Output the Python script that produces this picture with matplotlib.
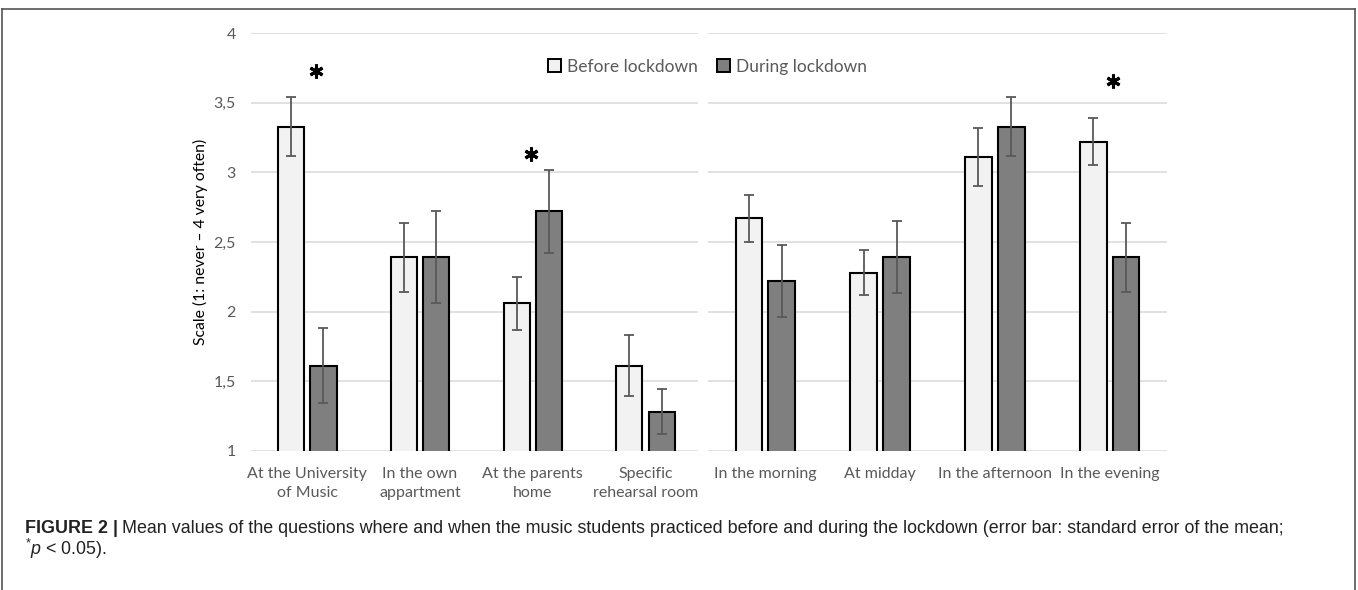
import matplotlib
matplotlib.use('Agg')
import numpy as np
import matplotlib.pyplot as plt
from matplotlib.patches import Patch
from matplotlib.lines import Line2D

plt.rcParams['font.family'] = ['Lato', 'DejaVu Sans']
plt.rcParams['mathtext.fontset'] = 'custom'
plt.rcParams['mathtext.rm'] = 'Liberation Sans'
plt.rcParams['mathtext.it'] = 'Liberation Sans:italic'

# where the students practiced
place_labels = ['At the University\nof Music', 'In the own\nappartment',
                'At the parents\nhome', 'Specific\nrehearsal room']
place_before = [3.33, 2.39, 2.06, 1.61]
place_during = [1.61, 2.39, 2.72, 1.28]
place_before_se = [0.21, 0.25, 0.19, 0.22]
place_during_se = [0.27, 0.33, 0.30, 0.16]

# when the students practiced
time_labels = ['In the morning', 'At midday', 'In the afternoon', 'In the evening']
time_before = [2.67, 2.28, 3.11, 3.22]
time_during = [2.22, 2.39, 3.33, 2.39]
time_before_se = [0.17, 0.16, 0.21, 0.17]
time_during_se = [0.26, 0.26, 0.21, 0.25]

# significant differences (*p < 0.05): group index, star height
place_sig = [0, 2]
place_sig_y = [3.73, 3.13]
time_sig = [3]
time_sig_y = [3.655]

y_ticks = [1, 1.5, 2, 2.5, 3, 3.5, 4]
y_tick_labels = ['1', '1,5', '2', '2,5', '3', '3,5', '4']

LIGHT = '#f2f2f2'
DARK = '#7f7f7f'
GRID = '#d9d9d9'
TXT = '#595959'
ERR = '#595959'

W, H = 1358, 590
fig = plt.figure(figsize=(W / 100, H / 100), dpi=100)

ax_bottom = (H - 450.7) / H
ax_height = (450.7 - 33.3) / H
ax1 = fig.add_axes([251 / W, ax_bottom, 447 / W, ax_height])
ax2 = fig.add_axes([708 / W, ax_bottom, 459 / W, ax_height])

bar_w = 0.232
offset = 0.143


def draw_panel(ax, labels, before, during, before_se, during_se,
               sig, sig_y, sig_dx):
    x = np.arange(len(labels))
    err_kw = dict(ecolor=ERR, elinewidth=1.3, capsize=3.3, capthick=1.3)
    ax.bar(x - offset, before, bar_w, color=LIGHT, edgecolor='black',
           linewidth=1.5, yerr=before_se, error_kw=err_kw, zorder=3)
    ax.bar(x + offset, during, bar_w, color=DARK, edgecolor='black',
           linewidth=1.5, yerr=during_se, error_kw=err_kw, zorder=3)
    # asterisks over the significant pairs
    ax.plot(x[sig] + np.array(sig_dx), sig_y, linestyle='none',
            marker=(6, 2, 0), markersize=10, markeredgewidth=2.2,
            color='black', zorder=4)
    ax.set_ylim(1, 4)
    ax.set_yticks(y_ticks)
    ax.yaxis.grid(True, color=GRID, linewidth=1.1)
    ax.set_axisbelow(True)
    ax.set_xticks(x)
    ax.set_xticklabels(labels, color=TXT, fontsize=11.5, linespacing=1.45)
    ax.tick_params(axis='both', length=0)
    ax.tick_params(axis='x', pad=12)
    for s in ax.spines.values():
        s.set_visible(False)


draw_panel(ax1, place_labels, place_before, place_during,
           place_before_se, place_during_se, place_sig, place_sig_y,
           [0.077, -0.016])
draw_panel(ax2, time_labels, time_before, time_during,
           time_before_se, time_during_se, time_sig, time_sig_y, [0.028])

ax1.set_xlim(-0.5, 3.466)
ax2.set_xlim(-0.5, 3.5)
ax1.set_yticklabels(y_tick_labels, color=TXT, fontsize=11.5)
ax1.tick_params(axis='y', pad=11)
ax2.set_yticklabels([])
ax1.set_ylabel('Scale (1: never \u2013 4 very often)', fontsize=11.3,
               color='black', labelpad=4)

handles = [Patch(facecolor=LIGHT, edgecolor='black', linewidth=1.4),
           Patch(facecolor=DARK, edgecolor='black', linewidth=1.4)]
fig.legend(handles, ['Before lockdown', 'During lockdown'], loc='center left',
           bbox_to_anchor=(548 / W, 1 - 66.7 / H), ncol=2, frameon=False,
           fontsize=12.5, labelcolor=TXT, handlelength=0.75, handleheight=0.75,
           handletextpad=0.35, columnspacing=1.1, borderpad=0, borderaxespad=0)

# frame around the figure panel
border = dict(color='#555555', linewidth=1.2, transform=fig.transFigure)
fig.add_artist(Line2D([2 / W, 1355 / W], [1 - 8.5 / H, 1 - 8.5 / H], **border))
fig.add_artist(Line2D([2 / W, 2 / W], [0, 1 - 8.5 / H], **border))
fig.add_artist(Line2D([1355 / W, 1355 / W], [0, 1 - 8.5 / H], **border))

# caption
cap_font = 'Liberation Sans'
y1 = 1 - 533 / H
y2 = 1 - 555 / H
t_bold = fig.text(25 / W, y1, 'FIGURE 2 |', fontsize=12.9, fontweight='bold',
                  family=cap_font, color='#222222', va='baseline')
fig.canvas.draw()
bb = t_bold.get_window_extent()
fig.text(bb.x1 / W + 4 / W, y1,
         'Mean values of the questions where and when the music students practiced '
         'before and during the lockdown (error bar: standard error of the mean;',
         fontsize=12.9, family=cap_font, color='#222222', va='baseline')
fig.text(25 / W, y2, r'$^{*}\mathit{p}$ < 0.05).', fontsize=12.9,
         family=cap_font, color='#222222', va='baseline')

fig.savefig('out.png', dpi=100)
